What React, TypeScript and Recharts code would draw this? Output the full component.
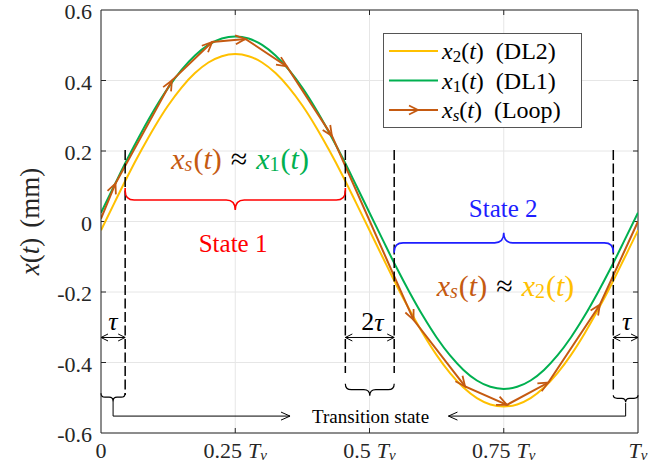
import React from "react";
import {
  LineChart,
  Line,
  XAxis,
  YAxis,
  CartesianGrid,
  Legend,
  ReferenceLine,
  ReferenceDot,
} from "recharts";

// time in units of T_v, displacement in mm
const T_SINE = [
  0, 0.025, 0.05, 0.075, 0.1, 0.125, 0.15, 0.175, 0.2, 0.225, 0.25, 0.275, 0.3, 0.325,
  0.35, 0.375, 0.4, 0.425, 0.45, 0.475, 0.5, 0.525, 0.55, 0.575, 0.6, 0.625, 0.65,
  0.675, 0.7, 0.725, 0.75, 0.775, 0.8, 0.825, 0.85, 0.875, 0.9, 0.925, 0.95, 0.975, 1,
];
const X1_DL1 = [
  0.025, 0.103, 0.18, 0.252, 0.319, 0.379, 0.43, 0.471, 0.501, 0.519, 0.525, 0.519, 0.501,
  0.471, 0.43, 0.379, 0.319, 0.252, 0.18, 0.103, 0.025, -0.053, -0.13, -0.202, -0.269,
  -0.329, -0.38, -0.421, -0.451, -0.469, -0.475, -0.469, -0.451, -0.421, -0.38, -0.329,
  -0.269, -0.202, -0.13, -0.053, 0.025,
];
const X2_DL2 = [
  -0.025, 0.053, 0.13, 0.202, 0.269, 0.329, 0.38, 0.421, 0.451, 0.469, 0.475, 0.469, 0.451,
  0.421, 0.38, 0.329, 0.269, 0.202, 0.13, 0.053, -0.025, -0.103, -0.18, -0.252, -0.319,
  -0.379, -0.43, -0.471, -0.501, -0.519, -0.525, -0.519, -0.501, -0.471, -0.43, -0.379,
  -0.319, -0.252, -0.18, -0.103, -0.025,
];
const LOOP_T = [0, 0.027, 0.132, 0.207, 0.269, 0.346, 0.43, 0.582, 0.678, 0.756, 0.833, 0.929, 1];
const LOOP_X = [0.008, 0.108, 0.4, 0.509, 0.518, 0.44, 0.243, -0.279, -0.468, -0.52, -0.457, -0.236, 0.0];

const X_TICKS = [0, 0.25, 0.5, 0.75, 1];
const X_TICK_NUMS = ["0", "0.25", "0.5", "0.75", ""];
const Y_TICKS = [-0.6, -0.4, -0.2, 0, 0.2, 0.4, 0.6];
const Y_TICK_LABELS = ["-0.6", "-0.4", "-0.2", "0", "0.2", "0.4", "0.6"];

const LEGEND_SUBS = ["2", "1", "s"];
const LEGEND_TAGS = ["DL2", "DL1", "Loop"];

const dl1 = T_SINE.map((t, i) => ({ t, v: X1_DL1[i] }));
const dl2 = T_SINE.map((t, i) => ({ t, v: X2_DL2[i] }));
const loop = LOOP_T.map((t, i) => ({ t, v: LOOP_X[i] }));

const W = 670;
const H = 470;
const MARGIN = { top: 10, right: 32, left: 0, bottom: 0 };
const Y_AXIS_W = 101;
const X_AXIS_H = 37;
const PLOT_W = W - MARGIN.right - Y_AXIS_W;
const PLOT_H = H - MARGIN.top - X_AXIS_H;

const SERIF = '"Liberation Serif", "Times New Roman", serif';
const AXIS = "#262626";
const YELLOW = "#FFC000";
const GREEN = "#00B050";
const ORANGE = "#C55A11";
const RED = "#FF0000";
const BLUE = "#1E1EFF";

const findIdx = (arr: number[], v: number) => arr.findIndex((a) => Math.abs(a - v) < 1e-9);

const XTick = (p: any) => {
  const i = findIdx(X_TICKS, p.payload.value);
  const num = X_TICK_NUMS[i];
  return (
    <text x={p.x} y={p.y} textAnchor="middle" dominantBaseline="central" fontFamily={SERIF} fontSize={22} fill={AXIS}>
      {num}
      {i > 0 && (
        <>
          <tspan fontStyle="italic" dx={num ? 6 : 0}>T</tspan>
          <tspan fontStyle="italic" fontSize={15} dy={5}>v</tspan>
        </>
      )}
    </text>
  );
};

const YTick = (p: any) => {
  const i = findIdx(Y_TICKS, p.payload.value);
  return (
    <text x={p.x} y={p.y + 1.5} textAnchor="end" dominantBaseline="central" fontFamily={SERIF} fontSize={22} fill={AXIS}>
      {Y_TICK_LABELS[i]}
    </text>
  );
};

const YLabel = (p: any) => {
  const vb = p.viewBox || { x: 0, y: MARGIN.top, width: Y_AXIS_W, height: PLOT_H };
  const cx = vb.x + 30;
  const cy = vb.y + vb.height / 2;
  return (
    <text
      x={cx}
      y={cy}
      transform={`rotate(-90 ${cx} ${cy})`}
      textAnchor="middle"
      dominantBaseline="central"
      fontFamily={SERIF}
      fontSize={27}
      fill={AXIS}
    >
      <tspan fontStyle="italic">x</tspan>(<tspan fontStyle="italic">t</tspan>)<tspan dx={10}>(mm)</tspan>
    </text>
  );
};

// open arrow head at each loop sample, pointing along the incoming segment
const ArrowDot = (p: any) => {
  const { cx, cy, index } = p;
  if (!index || index >= LOOP_T.length - 1) return <g key={`ad${index}`} />;
  const dx = (LOOP_T[index] - LOOP_T[index - 1]) * PLOT_W;
  const dy = (-(LOOP_X[index] - LOOP_X[index - 1]) * PLOT_H) / 1.2;
  const a = Math.atan2(dy, dx);
  const L = 10;
  const w = 4.5;
  const bx = cx - L * Math.cos(a);
  const by = cy - L * Math.sin(a);
  const nx = -Math.sin(a) * w;
  const ny = Math.cos(a) * w;
  return (
    <path
      key={`ad${index}`}
      d={`M${bx + nx},${by + ny}L${cx},${cy}L${bx - nx},${by - ny}`}
      fill="none"
      stroke={ORANGE}
      strokeWidth={1.8}
    />
  );
};

const brace = (dir: number, h1: number, h2: number, r: number, color: string, sw: number) => (p: any) => {
  const xa = Math.min(p.x1, p.x2);
  const xb = Math.max(p.x1, p.x2);
  const y0 = p.y1;
  const xm = (xa + xb) / 2;
  const yh = y0 + dir * h1;
  const yt = y0 + dir * (h1 + h2);
  const yr = y0 + dir * Math.max(h1 - r, 0);
  const d = [
    `M${xa},${y0}`,
    `L${xa},${yr}`,
    `Q${xa},${yh} ${xa + r},${yh}`,
    `L${xm - r},${yh}`,
    `Q${xm},${yh} ${xm},${yt}`,
    `Q${xm},${yh} ${xm + r},${yh}`,
    `L${xb - r},${yh}`,
    `Q${xb},${yh} ${xb},${yr}`,
    `L${xb},${y0}`,
  ].join(" ");
  return <path d={d} fill="none" stroke={color} strokeWidth={sw} />;
};

const doubleArrow = (p: any) => {
  const xa = Math.min(p.x1, p.x2);
  const xb = Math.max(p.x1, p.x2);
  const y = p.y1;
  const L = 7;
  const w = 3.5;
  return (
    <path
      d={`M${xa},${y}L${xb},${y}M${xa + L},${y - w}L${xa},${y}L${xa + L},${y + w}M${xb - L},${y - w}L${xb},${y}L${xb - L},${y + w}`}
      fill="none"
      stroke="#000"
      strokeWidth={1}
    />
  );
};

const elbowArrow = (p: any) => {
  const s = p.x2 > p.x1 ? 1 : -1;
  const L = 9;
  const w = 4;
  return (
    <path
      d={`M${p.x1},${p.y1}L${p.x1},${p.y2}L${p.x2},${p.y2}M${p.x2 - s * L},${p.y2 - w}L${p.x2},${p.y2}L${p.x2 - s * L},${p.y2 + w}`}
      fill="none"
      stroke="#000"
      strokeWidth={1}
    />
  );
};

const inTickV = (p: any) => {
  const top = Math.min(p.y1, p.y2);
  const bot = Math.max(p.y1, p.y2);
  return <path d={`M${p.x1},${top}L${p.x1},${top + 5}M${p.x1},${bot}L${p.x1},${bot - 5}`} stroke={AXIS} strokeWidth={1} />;
};

const inTickH = (p: any) => {
  const l = Math.min(p.x1, p.x2);
  const r = Math.max(p.x1, p.x2);
  return <path d={`M${l},${p.y1}L${l + 5},${p.y1}M${r},${p.y1}L${r - 5},${p.y1}`} stroke={AXIS} strokeWidth={1} />;
};

const textDot = (content: React.ReactNode, color: string, size: number) => (p: any) => (
  <text x={p.cx} y={p.cy} textAnchor="middle" dominantBaseline="central" fontFamily={SERIF} fontSize={size} fill={color}>
    {content}
  </text>
);

const approx = (sub: string, color: string) => (p: any) => (
  <text x={p.cx} y={p.cy} textAnchor="middle" dominantBaseline="central" fontFamily={SERIF} fontSize={30}>
    <tspan fill={ORANGE} fontStyle="italic">x</tspan>
    <tspan fill={ORANGE} fontStyle="italic" fontSize={20} dy={6}>s</tspan>
    <tspan fill={ORANGE} dy={-6} dx={1}>(</tspan>
    <tspan fill={ORANGE} fontStyle="italic">t</tspan>
    <tspan fill={ORANGE}>)</tspan>
    <tspan fill="#000" dx={9}>≈</tspan>
    <tspan fill={color} fontStyle="italic" dx={9}>x</tspan>
    <tspan fill={color} fontSize={20} dy={6}>{sub}</tspan>
    <tspan fill={color} dy={-6} dx={1}>(</tspan>
    <tspan fill={color} fontStyle="italic">t</tspan>
    <tspan fill={color}>)</tspan>
  </text>
);

const tau = <tspan fontStyle="italic">τ</tspan>;

const LegendBox = () => {
  const colors = [YELLOW, GREEN, ORANGE];
  return (
    <svg width={199} height={95} style={{ display: "block" }}>
      <rect x={0.5} y={0.5} width={198} height={94} fill="#fff" stroke="#555" />
      {LEGEND_SUBS.map((s, i) => {
        const y = 18 + i * 29.5;
        return (
          <g key={s}>
            <line x1={6} y1={y} x2={55} y2={y} stroke={colors[i]} strokeWidth={2} />
            {i === 2 && (
              <path d={`M${26},${y - 4.5}L${35},${y}L${26},${y + 4.5}`} fill="none" stroke={colors[i]} strokeWidth={1.8} />
            )}
            <text x={59} y={y} dominantBaseline="central" fontFamily={SERIF} fontSize={24} fill="#000">
              <tspan fontStyle="italic">x</tspan>
              <tspan fontStyle={s === "s" ? "italic" : "normal"} fontSize={17} dy={5}>{s}</tspan>
              <tspan dy={-5}>(</tspan>
              <tspan fontStyle="italic">t</tspan>
              <tspan>)</tspan>
              <tspan dx={12}>({LEGEND_TAGS[i]})</tspan>
            </text>
          </g>
        );
      })}
    </svg>
  );
};

export default function App() {
  return (
    <div style={{ position: "absolute", left: 0, top: 0, width: W, height: H, background: "#fff", fontFamily: SERIF }}>
      <LineChart width={W} height={H} margin={MARGIN}>
        <CartesianGrid stroke="#E6E6E6" strokeWidth={1} />
        <XAxis
          type="number"
          dataKey="t"
          domain={[0, 1]}
          ticks={X_TICKS}
          allowDataOverflow
          height={X_AXIS_H}
          tickSize={0}
          tickMargin={17}
          tickLine={false}
          tick={<XTick />}
          axisLine={{ stroke: AXIS, strokeWidth: 1 }}
          interval={0}
        />
        <YAxis
          type="number"
          domain={[-0.6, 0.6]}
          ticks={Y_TICKS}
          allowDataOverflow
          width={Y_AXIS_W}
          tickSize={0}
          tickMargin={9}
          tickLine={false}
          tick={<YTick />}
          axisLine={{ stroke: AXIS, strokeWidth: 1 }}
          interval={0}
          label={{ content: YLabel }}
        />
        <ReferenceLine y={0.6} stroke={AXIS} strokeWidth={1} ifOverflow="visible" />
        <ReferenceLine x={1} stroke={AXIS} strokeWidth={1} ifOverflow="visible" />
        {X_TICKS.slice(1, -1).map((t) => (
          <ReferenceLine key={`tx${t}`} x={t} shape={inTickV} ifOverflow="visible" />
        ))}
        {Y_TICKS.slice(1, -1).map((v) => (
          <ReferenceLine key={`ty${v}`} y={v} shape={inTickH} ifOverflow="visible" />
        ))}

        <Line data={dl2} dataKey="v" name="x2(t) (DL2)" type="monotone" stroke={YELLOW} strokeWidth={2} dot={false} isAnimationActive={false} />
        <Line data={dl1} dataKey="v" name="x1(t) (DL1)" type="monotone" stroke={GREEN} strokeWidth={2} dot={false} isAnimationActive={false} />
        <Line data={loop} dataKey="v" name="xs(t) (Loop)" type="linear" stroke={ORANGE} strokeWidth={2} dot={ArrowDot} activeDot={false} isAnimationActive={false} />

        {/* switching instants */}
        <ReferenceLine segment={[{ x: 0.045, y: 0.203 }, { x: 0.045, y: -0.492 }]} stroke="#000" strokeWidth={1.5} strokeDasharray="10 3.5" ifOverflow="visible" />
        <ReferenceLine segment={[{ x: 0.455, y: 0.203 }, { x: 0.455, y: -0.43 }]} stroke="#000" strokeWidth={1.5} strokeDasharray="10 3.5" ifOverflow="visible" />
        <ReferenceLine segment={[{ x: 0.546, y: 0.203 }, { x: 0.546, y: -0.43 }]} stroke="#000" strokeWidth={1.5} strokeDasharray="10 3.5" ifOverflow="visible" />
        <ReferenceLine segment={[{ x: 0.954, y: 0.203 }, { x: 0.954, y: -0.483 }]} stroke="#000" strokeWidth={1.5} strokeDasharray="10 3.5" ifOverflow="visible" />

        {/* state braces */}
        <ReferenceLine segment={[{ x: 0.045, y: 0.095 }, { x: 0.455, y: 0.095 }]} shape={brace(1, 12, 10, 9, RED, 1.6)} ifOverflow="visible" />
        <ReferenceLine segment={[{ x: 0.546, y: -0.089 }, { x: 0.954, y: -0.089 }]} shape={brace(-1, 10, 10, 9, BLUE, 1.6)} ifOverflow="visible" />
        <ReferenceLine segment={[{ x: 0, y: -0.487 }, { x: 0.045, y: -0.487 }]} shape={brace(1, 4, 4, 4, "#000", 1.2)} ifOverflow="visible" />
        <ReferenceLine segment={[{ x: 0.455, y: -0.46 }, { x: 0.546, y: -0.46 }]} shape={brace(1, 6, 6, 6, "#000", 1.2)} ifOverflow="visible" />
        <ReferenceLine segment={[{ x: 0.954, y: -0.493 }, { x: 1, y: -0.493 }]} shape={brace(1, 3, 4, 4, "#000", 1.2)} ifOverflow="visible" />

        {/* delay markers */}
        <ReferenceLine segment={[{ x: 0, y: -0.329 }, { x: 0.045, y: -0.329 }]} shape={doubleArrow} ifOverflow="visible" />
        <ReferenceLine segment={[{ x: 0.455, y: -0.329 }, { x: 0.546, y: -0.329 }]} shape={doubleArrow} ifOverflow="visible" />
        <ReferenceLine segment={[{ x: 0.954, y: -0.329 }, { x: 1, y: -0.329 }]} shape={doubleArrow} ifOverflow="visible" />

        {/* transition state pointers */}
        <ReferenceLine segment={[{ x: 0.0225, y: -0.509 }, { x: 0.352, y: -0.552 }]} shape={elbowArrow} ifOverflow="visible" />
        <ReferenceLine segment={[{ x: 0.977, y: -0.515 }, { x: 0.647, y: -0.552 }]} shape={elbowArrow} ifOverflow="visible" />

        <ReferenceDot x={0.022} y={-0.282} shape={textDot(tau, "#000", 26)} ifOverflow="visible" />
        <ReferenceDot x={0.5056} y={-0.285} shape={textDot(<>2{tau}</>, "#000", 26)} ifOverflow="visible" />
        <ReferenceDot x={0.979} y={-0.282} shape={textDot(tau, "#000", 26)} ifOverflow="visible" />
        <ReferenceDot x={0.246} y={-0.061} shape={textDot("State 1", RED, 25)} ifOverflow="visible" />
        <ReferenceDot x={0.749} y={0.038} shape={textDot("State 2", BLUE, 25)} ifOverflow="visible" />
        <ReferenceDot x={0.502} y={-0.552} shape={textDot("Transition state", "#000", 19)} ifOverflow="visible" />
        <ReferenceDot x={0.259} y={0.18} shape={approx("1", GREEN)} ifOverflow="visible" />
        <ReferenceDot x={0.7533} y={-0.18} shape={approx("2", YELLOW)} ifOverflow="visible" />

        <Legend
          layout="vertical"
          align="center"
          verticalAlign="middle"
          content={<LegendBox />}
          wrapperStyle={{ left: 383, top: 33, width: 199, height: 95 }}
        />
      </LineChart>
    </div>
  );
}
